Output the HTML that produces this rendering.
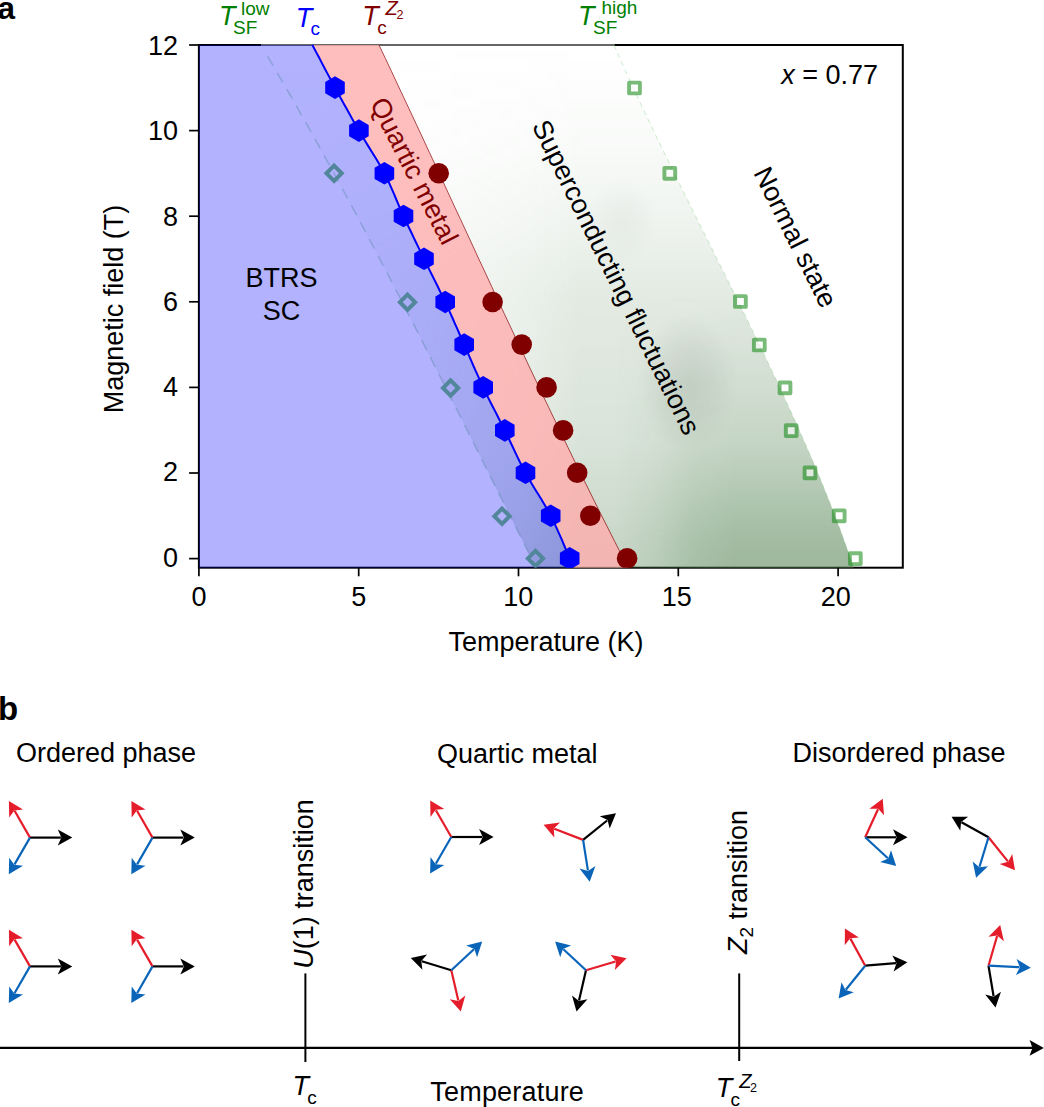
<!DOCTYPE html>
<html><head><meta charset="utf-8"><style>
html,body{margin:0;padding:0;background:#fff;width:1044px;height:1107px;overflow:hidden}
svg{display:block;font-family:"Liberation Sans",sans-serif}
</style></head><body>
<svg width="1044" height="1107" viewBox="0 0 1044 1107">
<defs>
<clipPath id="axclip"><rect x="198.9" y="45.0" width="703.9" height="522.7"/></clipPath>
<linearGradient id="gv" x1="0" y1="45" x2="0" y2="567" gradientUnits="userSpaceOnUse"><stop offset="0.000" stop-color="#fff" stop-opacity="0.0"/><stop offset="0.211" stop-color="#fff" stop-opacity="0.045"/><stop offset="0.345" stop-color="#fff" stop-opacity="0.1"/><stop offset="0.479" stop-color="#fff" stop-opacity="0.17"/><stop offset="0.623" stop-color="#fff" stop-opacity="0.2"/><stop offset="0.766" stop-color="#fff" stop-opacity="0.23"/><stop offset="0.939" stop-color="#fff" stop-opacity="0.32"/><stop offset="1.000" stop-color="#fff" stop-opacity="0.35"/></linearGradient>
<linearGradient id="gh" x1="260" y1="0" x2="580" y2="0" gradientUnits="userSpaceOnUse"><stop offset="0.000" stop-color="#fff" stop-opacity="0.15"/><stop offset="0.438" stop-color="#fff" stop-opacity="0.35"/><stop offset="0.812" stop-color="#fff" stop-opacity="0.7"/><stop offset="1.000" stop-color="#fff" stop-opacity="1.0"/></linearGradient>
<linearGradient id="gv2" x1="0" y1="45" x2="0" y2="567" gradientUnits="userSpaceOnUse"><stop offset="0.000" stop-color="#fff" stop-opacity="0.0"/><stop offset="0.479" stop-color="#fff" stop-opacity="0.0"/><stop offset="0.623" stop-color="#fff" stop-opacity="0.07"/><stop offset="0.766" stop-color="#fff" stop-opacity="0.16"/><stop offset="0.939" stop-color="#fff" stop-opacity="0.34"/><stop offset="1.000" stop-color="#fff" stop-opacity="0.37"/></linearGradient>
<linearGradient id="gh2" x1="615" y1="0" x2="735" y2="0" gradientUnits="userSpaceOnUse"><stop offset="0.000" stop-color="#fff" stop-opacity="0.0"/><stop offset="0.333" stop-color="#fff" stop-opacity="0.3"/><stop offset="0.667" stop-color="#fff" stop-opacity="0.78"/><stop offset="1.000" stop-color="#fff" stop-opacity="1.0"/></linearGradient>
<mask id="mv" maskUnits="userSpaceOnUse" x="0" y="0" width="1044" height="700"><rect x="0" y="0" width="1044" height="700" fill="url(#gv)"/></mask>
<mask id="mh" maskUnits="userSpaceOnUse" x="0" y="0" width="1044" height="700"><rect x="0" y="0" width="1044" height="700" fill="url(#gh)"/></mask>
<mask id="mv2" maskUnits="userSpaceOnUse" x="0" y="0" width="1044" height="700"><rect x="0" y="0" width="1044" height="700" fill="url(#gv2)"/></mask>
<mask id="mh2" maskUnits="userSpaceOnUse" x="0" y="0" width="1044" height="700"><rect x="0" y="0" width="1044" height="700" fill="url(#gh2)"/></mask>
<radialGradient id="blob1"><stop offset="0" stop-color="#647064" stop-opacity="0.16"/><stop offset="0.5" stop-color="#647064" stop-opacity="0.09"/><stop offset="1" stop-color="#647064" stop-opacity="0"/></radialGradient>
<clipPath id="sfclip"><polygon points="260.8,45.0 268.8,58.4 276.7,71.8 284.5,85.3 292.2,98.7 299.9,112.1 307.4,125.5 315.0,139.0 322.4,152.4 329.8,165.8 337.2,179.2 344.5,192.7 351.7,206.1 358.9,219.5 366.0,232.9 373.1,246.3 380.2,259.8 387.2,273.2 394.2,286.6 401.1,300.0 408.0,313.5 414.9,326.9 421.7,340.3 428.6,353.7 435.4,367.2 442.2,380.6 448.9,394.0 455.7,407.4 462.4,420.8 469.2,434.3 475.9,447.7 482.6,461.1 489.4,474.5 496.1,488.0 502.8,501.4 509.6,514.8 516.3,528.2 523.1,541.7 529.9,555.1 536.7,568.5 853.9,568.5 849.4,555.1 844.6,541.7 839.7,528.2 834.6,514.8 829.4,501.4 824.0,488.0 818.5,474.5 812.8,461.1 807.0,447.7 801.1,434.3 795.1,420.8 789.0,407.4 782.8,394.0 776.6,380.6 770.2,367.2 763.8,353.7 757.3,340.3 750.7,326.9 744.2,313.5 737.5,300.0 730.9,286.6 724.2,273.2 717.4,259.8 710.7,246.3 704.0,232.9 697.3,219.5 690.6,206.1 683.9,192.7 677.2,179.2 670.6,165.8 664.0,152.4 657.5,139.0 651.0,125.5 644.6,112.1 638.3,98.7 632.0,85.3 625.8,71.8 619.8,58.4 613.8,45.0"/></clipPath>
</defs>
<rect x="198.9" y="45.0" width="703.9" height="522.7" fill="#fff" stroke="#000" stroke-width="2"/>
<rect x="261" y="43" width="353.6" height="4" fill="#fff" fill-opacity="0.4"/>
<g clip-path="url(#axclip)">
<g clip-path="url(#sfclip)"><g mask="url(#mv)"><g mask="url(#mh)"><rect x="0" y="0" width="1044" height="700" fill="#5a875a"/></g></g><g mask="url(#mv2)"><g mask="url(#mh2)"><rect x="0" y="0" width="1044" height="700" fill="#5a875a"/></g></g><ellipse cx="688" cy="384" rx="50" ry="68" fill="url(#blob1)"/><ellipse cx="622" cy="222" rx="35" ry="45" fill="url(#blob1)" opacity="0.35"/></g>
<polygon points="198.9,43.0 312.4,45.0 314.1,48.3 316.4,52.6 319.2,57.8 322.2,63.6 325.4,69.7 328.7,75.9 332.0,82.0 335.0,87.6 337.9,93.0 340.8,98.3 343.8,103.7 346.8,109.1 349.8,114.5 352.8,119.9 355.8,125.2 358.9,130.6 362.1,136.0 365.3,141.3 368.6,146.6 371.9,152.0 375.2,157.3 378.4,162.6 381.5,168.0 384.4,173.3 387.1,178.6 389.6,184.0 392.0,189.3 394.3,194.6 396.5,200.0 398.8,205.3 401.1,210.7 403.5,216.0 406.0,221.3 408.5,226.7 411.1,232.0 413.6,237.4 416.2,242.7 418.8,248.1 421.4,253.4 424.0,258.8 426.6,264.2 429.3,269.6 432.0,275.0 434.7,280.4 437.4,285.8 440.0,291.2 442.7,296.6 445.2,302.0 447.7,307.4 450.1,312.7 452.5,318.0 454.8,323.3 457.2,328.6 459.5,334.0 461.8,339.3 464.2,344.6 466.6,349.9 468.9,355.3 471.2,360.6 473.5,366.0 475.9,371.3 478.3,376.7 480.7,382.0 483.2,387.4 485.8,392.8 488.4,398.1 491.1,403.5 493.9,408.9 496.7,414.3 499.4,419.7 502.1,425.1 504.8,430.4 507.4,435.7 509.9,441.0 512.4,446.3 514.9,451.6 517.4,456.9 520.0,462.2 522.7,467.5 525.5,472.8 528.5,478.1 531.6,483.5 534.9,488.9 538.2,494.2 541.5,499.6 544.7,505.0 547.8,510.3 550.7,515.7 553.5,521.3 556.3,527.4 559.1,533.6 561.8,539.7 564.2,545.5 566.4,550.7 568.3,555.1 569.7,558.4 574.0,568.5 198.9,569.7" fill="#0000ff" fill-opacity="0.3"/>
<polygon points="312.4,45.0 314.1,48.3 316.4,52.6 319.2,57.8 322.2,63.6 325.4,69.7 328.7,75.9 332.0,82.0 335.0,87.6 337.9,93.0 340.8,98.3 343.8,103.7 346.8,109.1 349.8,114.5 352.8,119.9 355.8,125.2 358.9,130.6 362.1,136.0 365.3,141.3 368.6,146.6 371.9,152.0 375.2,157.3 378.4,162.6 381.5,168.0 384.4,173.3 387.1,178.6 389.6,184.0 392.0,189.3 394.3,194.6 396.5,200.0 398.8,205.3 401.1,210.7 403.5,216.0 406.0,221.3 408.5,226.7 411.1,232.0 413.6,237.4 416.2,242.7 418.8,248.1 421.4,253.4 424.0,258.8 426.6,264.2 429.3,269.6 432.0,275.0 434.7,280.4 437.4,285.8 440.0,291.2 442.7,296.6 445.2,302.0 447.7,307.4 450.1,312.7 452.5,318.0 454.8,323.3 457.2,328.6 459.5,334.0 461.8,339.3 464.2,344.6 466.6,349.9 468.9,355.3 471.2,360.6 473.5,366.0 475.9,371.3 478.3,376.7 480.7,382.0 483.2,387.4 485.8,392.8 488.4,398.1 491.1,403.5 493.9,408.9 496.7,414.3 499.4,419.7 502.1,425.1 504.8,430.4 507.4,435.7 509.9,441.0 512.4,446.3 514.9,451.6 517.4,456.9 520.0,462.2 522.7,467.5 525.5,472.8 528.5,478.1 531.6,483.5 534.9,488.9 538.2,494.2 541.5,499.6 544.7,505.0 547.8,510.3 550.7,515.7 553.5,521.3 556.3,527.4 559.1,533.6 561.8,539.7 564.2,545.5 566.4,550.7 568.3,555.1 569.7,558.4 574.0,568.5 628.6,568.5 621.6,555.1 614.8,541.7 608.0,528.2 601.2,514.8 594.5,501.4 587.9,488.0 581.2,474.5 574.6,461.1 568.1,447.7 561.6,434.3 555.1,420.8 548.7,407.4 542.2,394.0 535.9,380.6 529.5,367.2 523.2,353.7 516.8,340.3 510.5,326.9 504.2,313.5 498.0,300.0 491.7,286.6 485.5,273.2 479.2,259.8 473.0,246.3 466.8,232.9 460.6,219.5 454.3,206.1 448.1,192.7 441.9,179.2 435.7,165.8 429.4,152.4 423.2,139.0 416.9,125.5 410.6,112.1 404.3,98.7 398.0,85.3 391.7,71.8 385.4,58.4 379.0,45.0" fill="#ffacac" fill-opacity="0.78"/>
</g>
<polyline points="267.6,56.4 275.2,69.3 282.6,82.1 290.1,95.0 297.4,107.8 304.7,120.7 312.0,133.6 319.1,146.4 326.2,159.3 333.3,172.2 340.3,185.0 347.3,197.9 354.2,210.7 361.1,223.6 367.9,236.5 374.7,249.3 381.4,262.2 388.2,275.0 394.8,287.9 401.5,300.8 408.1,313.6 414.7,326.5 421.3,339.4 427.8,352.2 434.3,365.1 440.8,377.9 447.3,390.8 453.8,403.7 460.3,416.5 466.7,429.4 473.2,442.2 479.6,455.1 486.1,468.0 492.5,480.8 499.0,493.7 505.4,506.6 511.9,519.4 518.4,532.3 524.8,545.1 531.3,558.0" fill="none" stroke="#52869b" stroke-opacity="0.38" stroke-width="1.5" stroke-dasharray="11 8"/>
<polyline points="613.8,45.0 619.8,58.4 625.8,71.8 632.0,85.3 638.3,98.7 644.6,112.1 651.0,125.5 657.5,139.0 664.0,152.4 670.6,165.8 677.2,179.2 683.9,192.7 690.6,206.1 697.3,219.5 704.0,232.9 710.7,246.3 717.4,259.8 724.2,273.2 730.9,286.6 737.5,300.0 744.2,313.5 750.7,326.9 757.3,340.3 763.8,353.7 770.2,367.2 776.6,380.6 782.8,394.0 789.0,407.4 795.1,420.8 801.1,434.3 807.0,447.7 812.8,461.1 818.5,474.5 824.0,488.0 829.4,501.4 834.6,514.8 839.7,528.2 844.6,541.7 849.4,555.1 853.9,568.5" fill="none" stroke="#8fd08f" stroke-opacity="0.45" stroke-width="1" stroke-dasharray="5 4"/>
<polyline points="379.0,45.0 385.4,58.4 391.7,71.8 398.0,85.3 404.3,98.7 410.6,112.1 416.9,125.5 423.2,139.0 429.4,152.4 435.7,165.8 441.9,179.2 448.1,192.7 454.3,206.1 460.6,219.5 466.8,232.9 473.0,246.3 479.2,259.8 485.5,273.2 491.7,286.6 498.0,300.0 504.2,313.5 510.5,326.9 516.8,340.3 523.2,353.7 529.5,367.2 535.9,380.6 542.2,394.0 548.7,407.4 555.1,420.8 561.6,434.3 568.1,447.7 574.6,461.1 581.2,474.5 587.9,488.0 594.5,501.4 601.2,514.8 608.0,528.2 614.8,541.7 621.6,555.1 628.6,568.5" fill="none" stroke="#800000" stroke-opacity="0.75" stroke-width="0.9"/>
<polyline points="312.4,45.0 314.1,48.3 316.4,52.6 319.2,57.8 322.2,63.6 325.4,69.7 328.7,75.9 332.0,82.0 335.0,87.6 337.9,93.0 340.8,98.3 343.8,103.7 346.8,109.1 349.8,114.5 352.8,119.9 355.8,125.2 358.9,130.6 362.1,136.0 365.3,141.3 368.6,146.6 371.9,152.0 375.2,157.3 378.4,162.6 381.5,168.0 384.4,173.3 387.1,178.6 389.6,184.0 392.0,189.3 394.3,194.6 396.5,200.0 398.8,205.3 401.1,210.7 403.5,216.0 406.0,221.3 408.5,226.7 411.1,232.0 413.6,237.4 416.2,242.7 418.8,248.1 421.4,253.4 424.0,258.8 426.6,264.2 429.3,269.6 432.0,275.0 434.7,280.4 437.4,285.8 440.0,291.2 442.7,296.6 445.2,302.0 447.7,307.4 450.1,312.7 452.5,318.0 454.8,323.3 457.2,328.6 459.5,334.0 461.8,339.3 464.2,344.6 466.6,349.9 468.9,355.3 471.2,360.6 473.5,366.0 475.9,371.3 478.3,376.7 480.7,382.0 483.2,387.4 485.8,392.8 488.4,398.1 491.1,403.5 493.9,408.9 496.7,414.3 499.4,419.7 502.1,425.1 504.8,430.4 507.4,435.7 509.9,441.0 512.4,446.3 514.9,451.6 517.4,456.9 520.0,462.2 522.7,467.5 525.5,472.8 528.5,478.1 531.6,483.5 534.9,488.9 538.2,494.2 541.5,499.6 544.7,505.0 547.8,510.3 550.7,515.7 553.5,521.3 556.3,527.4 559.1,533.6 561.8,539.7 564.2,545.5 566.4,550.7 568.3,555.1 569.7,558.4" fill="none" stroke="#0000ff" stroke-width="2"/>
<g clip-path="url(#axclip)">
<g fill="#0000ff"><polygon points="335.0,76.3 325.2,81.9 325.2,93.2 335.0,98.9 344.8,93.2 344.8,81.9"/><polygon points="358.9,119.3 349.1,124.9 349.1,136.2 358.9,141.9 368.7,136.2 368.7,124.9"/><polygon points="384.4,162.0 374.6,167.7 374.6,179.0 384.4,184.6 394.2,179.0 394.2,167.7"/><polygon points="403.5,204.7 393.7,210.3 393.7,221.7 403.5,227.3 413.3,221.7 413.3,210.3"/><polygon points="424.0,247.5 414.2,253.2 414.2,264.4 424.0,270.1 433.8,264.5 433.8,253.2"/><polygon points="445.2,290.7 435.4,296.4 435.4,307.6 445.2,313.3 455.0,307.6 455.0,296.4"/><polygon points="464.2,333.3 454.4,339.0 454.4,350.2 464.2,355.9 474.0,350.2 474.0,339.0"/><polygon points="483.2,376.1 473.4,381.8 473.4,393.0 483.2,398.7 493.0,393.0 493.0,381.8"/><polygon points="504.8,419.1 495.0,424.8 495.0,436.0 504.8,441.7 514.6,436.0 514.6,424.8"/><polygon points="525.5,461.5 515.7,467.2 515.7,478.4 525.5,484.1 535.3,478.5 535.3,467.2"/><polygon points="550.7,504.4 540.9,510.1 540.9,521.4 550.7,527.0 560.5,521.4 560.5,510.1"/><polygon points="569.7,547.1 559.9,552.8 559.9,564.0 569.7,569.7 579.5,564.0 579.5,552.8"/></g>
<g fill="#800000"><circle cx="438.7" cy="173.3" r="10.3"/><circle cx="492.6" cy="302" r="10.3"/><circle cx="521.7" cy="344.6" r="10.3"/><circle cx="546.6" cy="387.4" r="10.3"/><circle cx="563.1" cy="430.4" r="10.3"/><circle cx="577.2" cy="472.8" r="10.3"/><circle cx="590.3" cy="515.7" r="10.3"/><circle cx="627.1" cy="558.4" r="10.3"/></g>
<g fill="none" stroke="#52869b" stroke-width="4.0" stroke-linejoin="miter"><polygon points="334.1,165.70000000000002 341.70000000000005,173.3 334.1,180.9 326.5,173.3"/><polygon points="407.5,294.59999999999997 415.1,302.2 407.5,309.8 399.9,302.2"/><polygon points="450.6,380.4 458.20000000000005,388 450.6,395.6 443.0,388"/><polygon points="502,508.6 509.6,516.2 502,523.8000000000001 494.4,516.2"/><polygon points="535.5,550.8 543.1,558.4 535.5,566.0 527.9,558.4"/></g>
<g fill="#fff" stroke="#1a8c1a" stroke-width="3.9" stroke-linejoin="round"><rect x="629.1" y="82.6" width="10.8" height="10.8" opacity="0.58"/><rect x="664.4" y="167.9" width="10.8" height="10.8" opacity="0.58"/><rect x="735.0" y="296.1" width="10.8" height="10.8" opacity="0.58"/><rect x="753.9" y="339.6" width="10.8" height="10.8" opacity="0.58"/><rect x="779.6" y="382.5" width="10.8" height="10.8" opacity="0.58"/><rect x="785.8" y="425.3" width="10.8" height="10.8" opacity="0.58"/><rect x="804.6" y="467.5" width="10.8" height="10.8" opacity="0.58"/><rect x="833.8" y="510.4" width="10.8" height="10.8" opacity="0.58"/><rect x="849.9" y="553.3" width="10.8" height="10.8" opacity="0.58"/></g>
</g>
<g stroke="#000" stroke-width="1.7"><line x1="198.9" y1="567.7" x2="198.9" y2="576.3000000000001"/><line x1="358.7" y1="567.7" x2="358.7" y2="576.3000000000001"/><line x1="518.5" y1="567.7" x2="518.5" y2="576.3000000000001"/><line x1="678.3" y1="567.7" x2="678.3" y2="576.3000000000001"/><line x1="838.1" y1="567.7" x2="838.1" y2="576.3000000000001"/><line x1="198.9" y1="558.6" x2="189.1" y2="558.6"/><line x1="198.9" y1="473.0" x2="189.1" y2="473.0"/><line x1="198.9" y1="387.4" x2="189.1" y2="387.4"/><line x1="198.9" y1="301.8" x2="189.1" y2="301.8"/><line x1="198.9" y1="216.2" x2="189.1" y2="216.2"/><line x1="198.9" y1="130.6" x2="189.1" y2="130.6"/><line x1="198.9" y1="45.0" x2="189.1" y2="45.0"/></g>
<g font-size="27"><text x="199.1" y="606" text-anchor="middle">0</text><text x="358.7" y="606" text-anchor="middle">5</text><text x="518.2" y="606" text-anchor="middle">10</text><text x="676.7" y="606" text-anchor="middle">15</text><text x="835.8" y="606" text-anchor="middle">20</text><text x="178" y="566.7" text-anchor="end">0</text><text x="178" y="481.4" text-anchor="end">2</text><text x="178" y="396.2" text-anchor="end">4</text><text x="178" y="310.9" text-anchor="end">6</text><text x="178" y="225.6" text-anchor="end">8</text><text x="178" y="140.4" text-anchor="end">10</text><text x="178" y="55.1" text-anchor="end">12</text></g>
<text x="546" y="651" font-size="27" text-anchor="middle">Temperature (K)</text>
<text transform="translate(123.4,309) rotate(-90)" font-size="27" text-anchor="middle">Magnetic field (T)</text>
<g font-size="27">
<text x="219" y="25.3" fill="#008000"><tspan font-style="italic">T</tspan></text>
<text x="233" y="33.7" fill="#008000" font-size="19">SF</text>
<text x="241" y="14.5" fill="#008000" font-size="19">low</text>
<text x="295.7" y="27.1" fill="#0000ff"><tspan font-style="italic">T</tspan></text>
<text x="310.5" y="34.7" fill="#0000ff" font-size="19">c</text>
<text x="362.3" y="25.3" fill="#800000"><tspan font-style="italic">T</tspan></text>
<text x="377.2" y="33.6" fill="#800000" font-size="19">c</text>
<text x="385.5" y="14.6" fill="#800000" font-size="20" font-style="italic">Z</text>
<text x="396.4" y="18.6" fill="#800000" font-size="12.5">2</text>
<text x="578" y="24.7" fill="#008000"><tspan font-style="italic">T</tspan></text>
<text x="593" y="33.9" fill="#008000" font-size="19">SF</text>
<text x="601.5" y="14" fill="#008000" font-size="19">high</text>
</g>
<text x="281.5" y="287.4" font-size="27" text-anchor="middle">BTRS</text>
<text x="281.5" y="320" font-size="27" text-anchor="middle">SC</text>
<text x="878" y="84" font-size="27" text-anchor="end"><tspan font-style="italic">x</tspan> = 0.77</text>
<text transform="translate(414.5,170.7) rotate(62.9)" font-size="27" text-anchor="middle" dy="9.5" fill="#800000">Quartic metal</text>
<text transform="translate(616.5,277) rotate(63.8)" font-size="27" text-anchor="middle" dy="9.5" fill="#000">Superconducting fluctuations</text>
<text transform="translate(795.8,236.9) rotate(63.4)" font-size="27" text-anchor="middle" dy="9.5" fill="#000">Normal state</text>
<text x="-2.5" y="18.5" font-size="31.5" font-weight="bold">a</text>
<text x="-2" y="719.7" font-size="33" font-weight="bold">b</text>
<text x="16" y="762.4" font-size="27">Ordered phase</text>
<text x="437" y="762.6" font-size="27">Quartic metal</text>
<text x="792.5" y="762.4" font-size="27">Disordered phase</text>
<line x1="30.0" y1="837.6" x2="60.9" y2="837.6" stroke="#000" stroke-width="2.2"/><polygon points="72.3,837.6 57.8,845.6 61.4,837.6 57.8,829.6" fill="#000"/><line x1="30.0" y1="837.6" x2="14.6" y2="810.8" stroke="#e51d2b" stroke-width="2.2"/><polygon points="8.9,801.0 23.0,809.5 14.3,810.4 9.2,817.5" fill="#e51d2b"/><line x1="30.0" y1="837.6" x2="14.5" y2="864.4" stroke="#0a65b9" stroke-width="2.2"/><polygon points="8.8,874.2 9.2,857.7 14.3,864.8 23.0,865.7" fill="#0a65b9"/>
<line x1="152.5" y1="837.6" x2="183.4" y2="837.6" stroke="#000" stroke-width="2.2"/><polygon points="194.8,837.6 180.3,845.6 183.9,837.6 180.3,829.6" fill="#000"/><line x1="152.5" y1="837.6" x2="137.1" y2="810.8" stroke="#e51d2b" stroke-width="2.2"/><polygon points="131.4,801.0 145.5,809.5 136.8,810.4 131.7,817.5" fill="#e51d2b"/><line x1="152.5" y1="837.6" x2="137.1" y2="864.4" stroke="#0a65b9" stroke-width="2.2"/><polygon points="131.3,874.2 131.7,857.7 136.8,864.8 145.5,865.7" fill="#0a65b9"/>
<line x1="30.0" y1="966.4" x2="60.9" y2="966.4" stroke="#000" stroke-width="2.2"/><polygon points="72.3,966.4 57.8,974.4 61.4,966.4 57.8,958.4" fill="#000"/><line x1="30.0" y1="966.4" x2="14.6" y2="939.6" stroke="#e51d2b" stroke-width="2.2"/><polygon points="8.9,929.8 23.0,938.3 14.3,939.2 9.2,946.3" fill="#e51d2b"/><line x1="30.0" y1="966.4" x2="14.5" y2="993.2" stroke="#0a65b9" stroke-width="2.2"/><polygon points="8.8,1003.0 9.2,986.5 14.3,993.6 23.0,994.5" fill="#0a65b9"/>
<line x1="152.5" y1="966.4" x2="183.4" y2="966.4" stroke="#000" stroke-width="2.2"/><polygon points="194.8,966.4 180.3,974.4 183.9,966.4 180.3,958.4" fill="#000"/><line x1="152.5" y1="966.4" x2="137.1" y2="939.6" stroke="#e51d2b" stroke-width="2.2"/><polygon points="131.4,929.8 145.5,938.3 136.8,939.2 131.7,946.3" fill="#e51d2b"/><line x1="152.5" y1="966.4" x2="137.1" y2="993.2" stroke="#0a65b9" stroke-width="2.2"/><polygon points="131.3,1003.0 131.7,986.5 136.8,993.6 145.5,994.5" fill="#0a65b9"/>
<line x1="451.3" y1="837.0" x2="482.2" y2="837.0" stroke="#000" stroke-width="2.2"/><polygon points="493.6,837.0 479.1,845.0 482.7,837.0 479.1,829.0" fill="#000"/><line x1="451.3" y1="837.0" x2="435.9" y2="810.2" stroke="#e51d2b" stroke-width="2.2"/><polygon points="430.2,800.4 444.3,808.9 435.6,809.8 430.5,816.9" fill="#e51d2b"/><line x1="451.3" y1="837.0" x2="435.8" y2="863.8" stroke="#0a65b9" stroke-width="2.2"/><polygon points="430.1,873.6 430.5,857.1 435.6,864.2 444.3,865.1" fill="#0a65b9"/>
<line x1="583.1" y1="839.9" x2="607.1" y2="820.5" stroke="#000" stroke-width="2.2"/><polygon points="616.0,813.3 609.7,828.6 607.5,820.1 599.7,816.2" fill="#000"/><line x1="583.1" y1="839.9" x2="554.3" y2="828.8" stroke="#e51d2b" stroke-width="2.2"/><polygon points="543.6,824.7 560.0,822.5 553.8,828.6 554.3,837.4" fill="#e51d2b"/><line x1="583.1" y1="839.9" x2="587.9" y2="870.4" stroke="#0a65b9" stroke-width="2.2"/><polygon points="589.7,881.7 579.5,868.6 588.0,870.9 595.4,866.1" fill="#0a65b9"/>
<line x1="451.3" y1="970.3" x2="421.8" y2="961.3" stroke="#000" stroke-width="2.2"/><polygon points="410.8,957.9 427.1,954.5 421.3,961.1 422.4,969.8" fill="#000"/><line x1="451.3" y1="970.3" x2="458.3" y2="1000.4" stroke="#e51d2b" stroke-width="2.2"/><polygon points="460.8,1011.5 449.8,999.2 458.4,1000.9 465.3,995.6" fill="#e51d2b"/><line x1="451.3" y1="970.3" x2="473.9" y2="949.2" stroke="#0a65b9" stroke-width="2.2"/><polygon points="482.2,941.5 477.1,957.2 474.3,948.9 466.2,945.5" fill="#0a65b9"/>
<line x1="586.0" y1="970.3" x2="579.0" y2="1000.4" stroke="#000" stroke-width="2.2"/><polygon points="576.5,1011.5 572.0,995.6 578.9,1000.9 587.5,999.2" fill="#000"/><line x1="586.0" y1="970.3" x2="615.6" y2="961.5" stroke="#e51d2b" stroke-width="2.2"/><polygon points="626.6,958.3 614.9,970.1 616.1,961.4 610.4,954.7" fill="#e51d2b"/><line x1="586.0" y1="970.3" x2="563.4" y2="949.2" stroke="#0a65b9" stroke-width="2.2"/><polygon points="555.1,941.5 571.1,945.5 563.0,948.9 560.2,957.2" fill="#0a65b9"/>
<line x1="865.2" y1="837.3" x2="896.1" y2="837.3" stroke="#000" stroke-width="2.2"/><polygon points="907.5,837.3 893.0,845.3 896.6,837.3 893.0,829.3" fill="#000"/><line x1="865.2" y1="837.3" x2="878.0" y2="809.2" stroke="#e51d2b" stroke-width="2.2"/><polygon points="882.7,798.8 884.0,815.3 878.2,808.7 869.4,808.7" fill="#e51d2b"/><line x1="865.2" y1="837.3" x2="887.9" y2="858.3" stroke="#0a65b9" stroke-width="2.2"/><polygon points="896.2,866.0 880.2,862.1 888.2,858.6 891.0,850.3" fill="#0a65b9"/>
<line x1="988.5" y1="837.3" x2="961.5" y2="822.2" stroke="#000" stroke-width="2.2"/><polygon points="951.6,816.7 968.1,816.8 961.1,822.0 960.3,830.7" fill="#000"/><line x1="988.5" y1="837.3" x2="1007.9" y2="861.4" stroke="#e51d2b" stroke-width="2.2"/><polygon points="1015.0,870.3 999.7,864.0 1008.2,861.8 1012.2,854.0" fill="#e51d2b"/><line x1="988.5" y1="837.3" x2="979.5" y2="866.8" stroke="#0a65b9" stroke-width="2.2"/><polygon points="976.1,877.8 972.7,861.5 979.3,867.3 988.0,866.2" fill="#0a65b9"/>
<line x1="865.2" y1="965.7" x2="896.0" y2="963.2" stroke="#000" stroke-width="2.2"/><polygon points="907.4,962.3 893.6,971.4 896.5,963.2 892.3,955.5" fill="#000"/><line x1="865.2" y1="965.7" x2="850.4" y2="938.6" stroke="#e51d2b" stroke-width="2.2"/><polygon points="844.9,928.6 858.9,937.5 850.1,938.2 844.8,945.2" fill="#e51d2b"/><line x1="865.2" y1="965.7" x2="845.8" y2="989.7" stroke="#0a65b9" stroke-width="2.2"/><polygon points="838.6,998.6 841.5,982.3 845.4,990.1 853.9,992.3" fill="#0a65b9"/>
<line x1="988.5" y1="965.7" x2="993.6" y2="996.2" stroke="#000" stroke-width="2.2"/><polygon points="995.5,1007.4 985.2,994.4 993.7,996.7 1001.0,991.8" fill="#000"/><line x1="988.5" y1="965.7" x2="997.1" y2="936.0" stroke="#e51d2b" stroke-width="2.2"/><polygon points="1000.2,925.1 1003.9,941.2 997.2,935.5 988.5,936.8" fill="#e51d2b"/><line x1="988.5" y1="965.7" x2="1019.4" y2="967.2" stroke="#0a65b9" stroke-width="2.2"/><polygon points="1030.8,967.7 1015.9,975.0 1019.9,967.2 1016.6,959.0" fill="#0a65b9"/>
<text transform="translate(313.4,884) rotate(-90)" font-size="27" text-anchor="middle"><tspan font-style="italic">U</tspan>(1) transition</text>
<line x1="305.4" y1="973.4" x2="305.4" y2="1062" stroke="#000" stroke-width="2"/>
<text transform="translate(746.5,882) rotate(-90)" font-size="27" text-anchor="middle"><tspan font-style="italic">Z</tspan><tspan font-size="19" dy="6">2</tspan><tspan dy="-6"> transition</tspan></text>
<line x1="739.2" y1="973.4" x2="739.2" y2="1061" stroke="#000" stroke-width="2"/>
<line x1="0" y1="1047.9" x2="1034" y2="1047.9" stroke="#000" stroke-width="2.1"/>
<polygon points="1043.8,1047.9 1029.6,1040.0 1032.4,1047.9 1029.6,1055.8" fill="#000"/>
<text x="292.5" y="1094.8" font-size="27" font-style="italic">T</text><text x="307.3" y="1103.5" font-size="19">c</text>
<text x="430.3" y="1100.8" font-size="27" letter-spacing="0.2">Temperature</text>
<text x="715.8" y="1097.4" font-size="27" font-style="italic">T</text><text x="730.5" y="1106" font-size="19">c</text><text x="739.3" y="1087.6" font-size="20" font-style="italic">Z</text><text x="750" y="1091.8" font-size="12.5">2</text>
</svg>
</body></html>
